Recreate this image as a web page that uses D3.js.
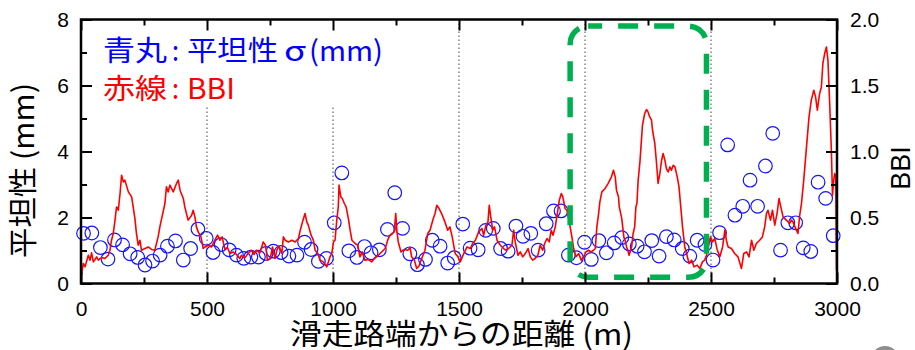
<!DOCTYPE html>
<html>
<head>
<meta charset="utf-8">
<script src="https://cdn.jsdelivr.net/npm/d3@7"></script>
<style>
  html, body { margin: 0; padding: 0; background: #fff; }
  svg { display: block; }
  .tick text { font-family: "Liberation Sans", Arial, sans-serif; font-size: 21px; fill: #000; }
  .tick line { stroke: #000; stroke-width: 2; }
  .jp { font-family: "Noto Sans CJK JP", sans-serif; }
</style>
</head>
<body>
<svg id="chart" width="915" height="350"></svg>
<script>
// Distance from runway end (m) of each roughness sample (blue circles)
const sigmaDist = [10,43,77,107,133,165,195,225,254,284,314,343,375,406,435,464,497,524,556,588,
  617,646,674,704,734,763,794,825,857,887,913,942,974,1005,1035,1063,1095,1125,1151,1184,
  1216,1245,1276,1305,1335,1367,1394,1425,1455,1481,1515,1544,1576,1606,1636,1665,1695,1726,1754,1785,
  1814,1846,1875,1905,1934,1966,1998,2025,2055,2085,2116,2146,2176,2207,2236,2265,2294,2323,2354,2386,
  2416,2445,2476,2508,2534,2566,2595,2626,2655,2685,2716,2745,2776,2805,2836,2866,2896,2925,2955,2985];

// Roughness sigma (mm)
const sigmaMM = [1.52,1.53,1.09,0.74,1.32,1.17,0.90,0.79,0.56,0.68,0.86,1.13,1.29,0.71,1.06,1.65,1.37,0.94,1.18,1.02,
  0.86,0.76,0.80,0.80,0.91,0.98,0.94,0.83,0.86,1.25,1.03,0.67,0.76,1.84,3.35,0.99,0.79,1.12,0.93,1.02,
  1.64,2.75,1.67,0.90,0.57,0.73,1.31,1.13,0.62,0.78,1.80,1.07,1.02,1.61,1.67,1.06,0.98,1.74,1.43,1.52,
  1.01,1.81,2.20,2.20,0.86,0.78,1.25,0.73,1.30,0.93,1.23,1.39,1.20,1.13,0.96,1.30,0.83,1.42,1.32,1.06,
  0.83,1.31,1.18,0.71,1.54,4.20,2.07,2.34,3.13,2.34,3.56,4.55,1.01,1.84,1.84,1.08,0.97,3.07,2.58,1.45];

// Distance (m) of each BBI reading (red line)
const bbiDist = [2,9,16,29,36,42,49,56,62,69,82,95,108,115,121,128,135,141,148,155,161,168,174,188,201,207,214,220,227,234,
  240,254,267,280,293,306,313,320,333,339,346,353,366,379,386,393,406,412,425,439,445,452,458,465,476,485,492,505,518,531,
  542,551,560,571,581,591,604,617,630,637,650,663,676,687,696,710,723,732,740,751,760,770,777,786,797,803,810,823,837,850,
  863,870,879,889,896,902,913,922,929,940,949,962,975,982,988,995,1002,1008,1015,1021,1024,1031,1037,1045,1052,1061,1068,1075,1088,1098,
  1107,1116,1127,1140,1154,1167,1180,1193,1207,1217,1226,1235,1243,1249,1254,1259,1270,1283,1297,1306,1312,1323,1332,1341,1352,1365,1376,1385,1398,1405,
  1412,1421,1431,1444,1455,1464,1473,1485,1496,1505,1519,1532,1545,1554,1565,1578,1591,1598,1607,1615,1620,1626,1634,1641,1651,1664,1677,1686,1697,1710,
  1717,1723,1734,1743,1753,1763,1774,1783,1792,1802,1813,1822,1832,1840,1849,1858,1866,1873,1882,1889,1898,1906,1912,1921,1928,1935,1941,1948,1955,1964,
  1975,1985,1994,2004,2014,2025,2034,2041,2047,2054,2059,2067,2080,2092,2105,2113,2120,2125,2133,2136,2146,2154,2159,2165,2170,2175,2185,2191,2197,2202,
  2206,2211,2218,2228,2237,2244,2250,2257,2264,2268,2277,2284,2290,2297,2304,2310,2317,2323,2330,2337,2343,2350,2357,2366,2373,2380,2387,2396,2403,2413,
  2423,2433,2445,2456,2466,2475,2482,2488,2498,2506,2515,2524,2535,2546,2555,2561,2568,2581,2594,2607,2621,2630,2641,2651,2661,2670,2680,2693,2704,2713,
  2720,2726,2736,2744,2753,2762,2770,2777,2786,2799,2812,2819,2825,2836,2845,2852,2859,2868,2879,2889,2898,2908,2915,2922,2931,2938,2944,2951,2958,2964,
  2971,2978,2982,2987,2991,2995,2998];

// Bump Index readings
const bbi = [0.063,0.152,0.126,0.214,0.177,0.232,0.164,0.182,0.202,0.177,0.197,0.189,0.214,0.252,0.328,0.379,0.480,0.580,0.555,0.682,0.820,0.770,0.783,0.694,0.656,0.580,0.492,0.379,0.290,0.328,
  0.252,0.265,0.277,0.258,0.252,0.353,0.429,0.492,0.606,0.732,0.694,0.745,0.694,0.758,0.783,0.707,0.644,0.580,0.480,0.517,0.555,0.505,0.429,0.391,0.353,0.265,0.277,0.290,0.277,0.328,
  0.366,0.328,0.353,0.258,0.273,0.227,0.239,0.220,0.189,0.214,0.194,0.227,0.252,0.220,0.252,0.232,0.315,0.290,0.177,0.189,0.277,0.189,0.252,0.283,0.227,0.353,0.328,0.315,0.328,0.315,
  0.341,0.404,0.467,0.530,0.467,0.442,0.366,0.328,0.252,0.227,0.177,0.164,0.126,0.164,0.202,0.227,0.315,0.328,0.480,0.580,0.745,0.656,0.644,0.606,0.580,0.492,0.404,0.328,0.303,0.290,
  0.202,0.239,0.177,0.182,0.164,0.197,0.214,0.239,0.265,0.328,0.366,0.379,0.391,0.530,0.391,0.315,0.239,0.258,0.252,0.273,0.202,0.177,0.114,0.131,0.189,0.252,0.379,0.404,0.492,0.530,
  0.593,0.568,0.530,0.467,0.404,0.429,0.353,0.227,0.202,0.164,0.227,0.277,0.265,0.303,0.328,0.391,0.417,0.366,0.442,0.467,0.593,0.505,0.404,0.429,0.328,0.290,0.265,0.252,0.265,0.290,
  0.404,0.315,0.214,0.239,0.202,0.227,0.265,0.202,0.177,0.189,0.214,0.290,0.252,0.303,0.341,0.315,0.404,0.366,0.429,0.517,0.631,0.682,0.656,0.568,0.555,0.492,0.429,0.353,0.265,0.202,
  0.227,0.177,0.202,0.239,0.252,0.239,0.252,0.265,0.429,0.530,0.618,0.694,0.720,0.758,0.808,0.858,0.808,0.707,0.656,0.580,0.492,0.353,0.328,0.277,0.252,0.214,0.277,0.379,0.429,0.580,
  0.606,0.783,0.921,1.199,1.288,1.318,1.300,1.262,1.237,1.161,1.061,0.909,0.758,0.833,0.934,0.985,0.934,0.871,0.845,0.883,0.858,0.896,0.883,0.808,0.732,0.580,0.429,0.277,0.227,0.152,
  0.177,0.126,0.139,0.114,0.164,0.177,0.214,0.265,0.353,0.315,0.341,0.260,0.202,0.277,0.404,0.328,0.277,0.265,0.227,0.202,0.114,0.227,0.239,0.202,0.328,0.252,0.303,0.328,0.353,0.429,
  0.530,0.555,0.480,0.555,0.442,0.530,0.644,0.580,0.505,0.480,0.455,0.480,0.467,0.417,0.379,0.517,0.606,0.783,1.035,1.262,1.389,1.464,1.414,1.313,1.439,1.489,1.667,1.742,1.792,1.692,
  1.364,0.985,0.669,0.783,0.833,0.820,0.101];

// Axis ticks
const xMajorTicks = [0, 500, 1000, 1500, 2000, 2500, 3000];
const xMinorTicks = [250, 750, 1250, 1750, 2250, 2750];
const leftMajorTicks = [0, 2, 4, 6, 8];
const leftMinorTicks = [1, 3, 5, 7];
const rightMajorTicks = [0, 0.5, 1.0, 1.5, 2.0];
const rightMinorTicks = [0.25, 0.75, 1.25, 1.75];

// Dotted guide lines every 500 m
const guideDist = [500, 1000, 1500, 2000, 2500];

// Highlighted section (distance range in m, roughness range in mm)
const zoneDist = [1941, 2482];
const zoneMM = [0.19, 7.8];

const svg = d3.select('#chart');
const L = 81, R = 837, T = 19.5, B = 283.5;

svg.append('rect').attr('width', 915).attr('height', 350).attr('fill', '#fff');

const x = d3.scaleLinear().domain([0, 3000]).range([L, R]);
const yL = d3.scaleLinear().domain([0, 8]).range([B, T]);
const yR = d3.scaleLinear().domain([0, 2]).range([B, T]);

// dotted guides
svg.append('g').selectAll('line').data(guideDist).join('line')
  .attr('x1', d => x(d)).attr('x2', d => x(d))
  .attr('y1', T).attr('y2', B)
  .attr('stroke', '#444').attr('stroke-width', 1)
  .attr('stroke-dasharray', '1.5,2.5');

// legend panel (white background)
svg.append('rect').attr('x', 92).attr('y', T + 1.5).attr('width', 330).attr('height', 107 - T - 1.5)
  .attr('fill', '#fff');

// roughness circles
svg.append('g').selectAll('circle').data(d3.zip(sigmaDist, sigmaMM)).join('circle')
  .attr('cx', d => x(d[0])).attr('cy', d => yL(d[1])).attr('r', 6.8)
  .attr('fill', 'none').attr('stroke', '#1414ff').attr('stroke-width', 1.2);

// BBI line
const line = d3.line().x(d => x(d[0])).y(d => yR(d[1]));
svg.append('path').datum(d3.zip(bbiDist, bbi))
  .attr('d', line).attr('fill', 'none')
  .attr('stroke', '#ff0000').attr('stroke-width', 1.6).attr('stroke-linejoin', 'round');

// highlighted section
svg.append('rect')
  .attr('x', x(zoneDist[0])).attr('y', yL(zoneMM[1]))
  .attr('width', x(zoneDist[1]) - x(zoneDist[0]))
  .attr('height', yL(zoneMM[0]) - yL(zoneMM[1]))
  .attr('rx', 18).attr('ry', 18)
  .attr('fill', 'none').attr('stroke', '#00b050').attr('stroke-width', 5.5)
  .attr('stroke-dasharray', '20,16').attr('stroke-dashoffset', 6);

// axes with inward ticks
function strip(g) { g.select('.domain').remove(); }
svg.append('g').attr('transform', `translate(0,${B})`)
  .call(d3.axisBottom(x).tickValues(xMinorTicks).tickSize(-6).tickFormat('')).call(strip);
svg.append('g').attr('transform', `translate(0,${B})`)
  .call(d3.axisBottom(x).tickValues(xMajorTicks).tickSize(-11).tickPadding(18).tickFormat(d3.format('d'))).call(strip);
svg.append('g').attr('transform', `translate(0,${T})`)
  .call(d3.axisTop(x).tickValues(xMinorTicks).tickSize(-6).tickFormat('')).call(strip);
svg.append('g').attr('transform', `translate(0,${T})`)
  .call(d3.axisTop(x).tickValues(xMajorTicks).tickSize(-11).tickFormat('')).call(strip);
svg.append('g').attr('transform', `translate(${L},0)`)
  .call(d3.axisLeft(yL).tickValues(leftMinorTicks).tickSize(-6).tickFormat('')).call(strip);
svg.append('g').attr('transform', `translate(${L},0)`)
  .call(d3.axisLeft(yL).tickValues(leftMajorTicks).tickSize(-11).tickPadding(12).tickFormat(d3.format('d'))).call(strip);
svg.append('g').attr('transform', `translate(${R},0)`)
  .call(d3.axisRight(yR).tickValues(rightMinorTicks).tickSize(-6).tickFormat('')).call(strip);
svg.append('g').attr('transform', `translate(${R},0)`)
  .call(d3.axisRight(yR).tickValues(rightMajorTicks).tickSize(-11).tickPadding(13).tickFormat(d3.format('.1f'))).call(strip);

// plot frame
svg.append('rect').attr('x', L).attr('y', T).attr('width', R - L).attr('height', B - T)
  .attr('fill', 'none').attr('stroke', '#000').attr('stroke-width', 2.5);

// axis titles
svg.append('text').attr('class', 'jp')
  .attr('x', 461.5).attr('y', 345).attr('text-anchor', 'middle')
  .attr('font-size', 29).attr('textLength', 343).attr('lengthAdjust', 'spacingAndGlyphs')
  .text('滑走路端からの距離 (m)');
svg.append('text').attr('class', 'jp')
  .attr('transform', 'translate(34,170.5) rotate(-90)').attr('text-anchor', 'middle')
  .attr('font-size', 29).attr('textLength', 175).attr('lengthAdjust', 'spacingAndGlyphs')
  .text('平坦性 (mm)');
svg.append('text')
  .attr('transform', 'translate(910,168) rotate(-90)').attr('text-anchor', 'middle')
  .attr('font-family', '"Liberation Sans", Arial, sans-serif').attr('font-size', 27)
  .text('BBI');

// legend
const legendRows = [
  { color: '#0000ff', y: 61, parts: [['青丸', 103, 64], [':', 172, 7], ['平坦性', 187, 91], ['σ', 284, 22], ['(mm)', 309, 74]] },
  { color: '#ff0000', y: 98.5, parts: [['赤線', 103, 64], [':', 172, 7], ['BBI', 187, 48]] }
];
legendRows.forEach(row => {
  row.parts.forEach(([t, px, w]) => {
    svg.append('text').attr('class', 'jp')
      .attr('x', px).attr('y', row.y).attr('font-size', 28).attr('fill', row.color)
      .attr('textLength', w).attr('lengthAdjust', 'spacingAndGlyphs')
      .text(t);
  });
});

// corner badge
svg.append('circle').attr('cx', 885).attr('cy', 360).attr('r', 14).attr('fill', '#8e8e8e');
</script>
</body>
</html>
